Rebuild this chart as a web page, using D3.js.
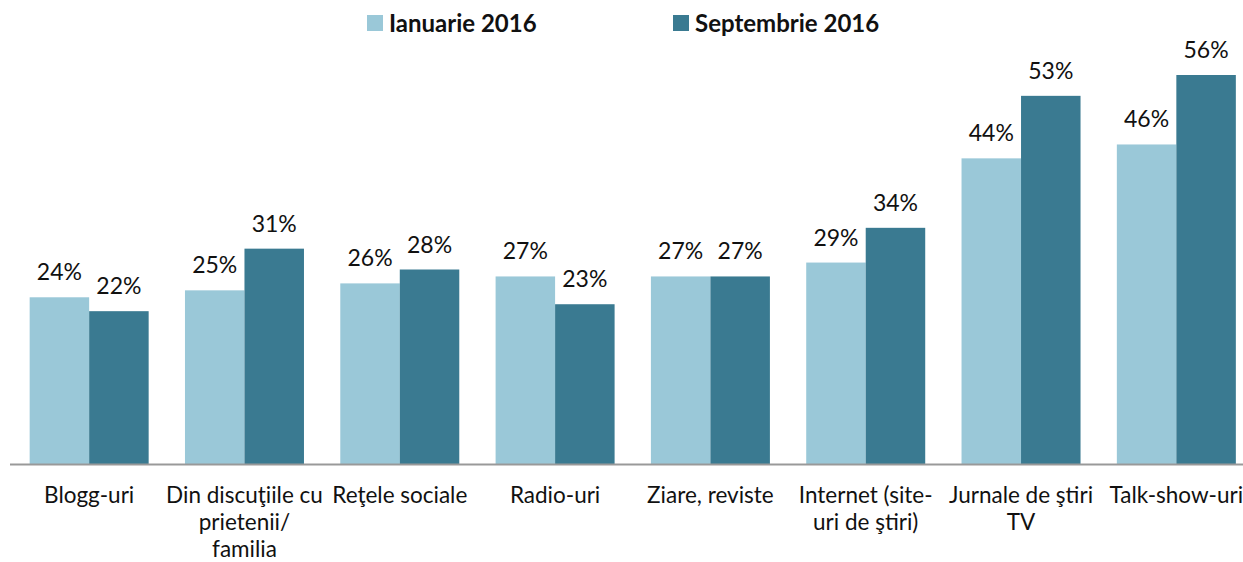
<!DOCTYPE html>
<html>
<head>
<meta charset="utf-8">
<script src="https://cdn.jsdelivr.net/npm/d3@7"></script>
<style>
  body { margin: 0; background: #fff; }
  text { font-family: Lato, "Open Sans", sans-serif; fill: #111; }
</style>
</head>
<body>
<div id="chart"></div>
<script>
// sources of information, Jan vs Sep 2016

const categories = [
  ["Blogg-uri"],
  ["Din discuţiile cu", "prietenii/", "familia"],
  ["Reţele sociale"],
  ["Radio-uri"],
  ["Ziare, reviste"],
  ["Internet (site-", "uri de ştiri)"],
  ["Jurnale de ştiri", "TV"],
  ["Talk-show-uri"]
]
const ian2016 = [24, 25, 26, 27, 27, 29, 44, 46]
const sep2016 = [22, 31, 28, 23, 27, 34, 53, 56]
const seriesNames = ["Ianuarie 2016", "Septembrie 2016"]
const colors = ["#9AC8D8", "#3A7A91"]

const W = 1243, H = 562
const baseY = 464

const svg = d3.select("#chart").append("svg")
    .attr("width", W)
    .attr("height", H)

const x = d3.scaleBand()
    .domain(d3.range(categories.length))
    .range([11.5, 1254])
    .paddingInner(0)
    .paddingOuter(0)

const inner = d3.scaleBand()
    .domain([0, 1])
    .range([-59.5, 59.5])

const y = d3.scaleLinear()
    .domain([0, 56])
    .range([baseY, 75])

const series = [ian2016, sep2016]

series.forEach(function(vals, s) {
    const g = svg.append("g")
    g.selectAll("rect")
        .data(vals)
        .enter()
        .append("rect")
        .attr("x", (d, i) => x(i) + x.bandwidth() / 2 + inner(s))
        .attr("y", d => y(d))
        .attr("width", inner.bandwidth())
        .attr("height", d => baseY - y(d))
        .style("fill", colors[s])

    g.selectAll("text")
        .data(vals)
        .enter()
        .append("text")
        .attr("x", (d, i) => x(i) + x.bandwidth() / 2 + inner(s) + inner.bandwidth() / 2)
        .attr("y", d => y(d) - 17)
        .attr("text-anchor", "middle")
        .style("font-size", "23px")
        .text(d => d + "%")
})

// baseline
svg.append("line")
    .attr("x1", 10).attr("x2", W)
    .attr("y1", baseY + 0.5).attr("y2", baseY + 0.5)
    .style("stroke", "#999")
    .style("stroke-width", 2)

// category labels
const lab = svg.append("g")
categories.forEach(function(lines, i) {
    const t = lab.append("text")
        .attr("text-anchor", "middle")
        .attr("x", x(i) + x.bandwidth() / 2)
        .attr("y", 503)
        .style("font-size", "22.5px")
    lines.forEach(function(l, k) {
        t.append("tspan")
            .attr("x", x(i) + x.bandwidth() / 2)
            .attr("dy", k == 0 ? 0 : 27)
            .text(l)
    })
})

// legend
const legX = [367, 673]
seriesNames.forEach(function(name, s) {
    svg.append("rect")
        .attr("x", legX[s]).attr("y", 15)
        .attr("width", 16).attr("height", 16)
        .style("fill", colors[s])
    svg.append("text")
        .attr("x", legX[s] + 22)
        .attr("y", 32)
        .style("font-size", "24px")
        .style("font-weight", "bold")
        .text(name)
})
</script>
</body>
</html>
